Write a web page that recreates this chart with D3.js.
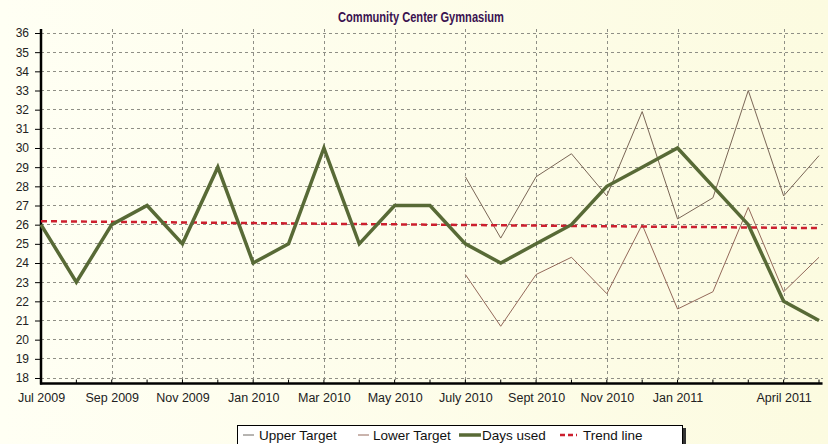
<!DOCTYPE html>
<html><head><meta charset="utf-8">
<script src="https://cdn.jsdelivr.net/npm/d3@7/dist/d3.min.js"></script>
<style>html,body{margin:0;padding:0;background:#fdfde8;}svg{display:block;font-family:Arial,"Liberation Sans",sans-serif;}</style>
</head><body>
<script>
const months = ["Jul 2009","Aug 2009","Sep 2009","Oct 2009","Nov 2009","Dec 2009","Jan 2010","Feb 2010","Mar 2010","Apr 2010","May 2010","Jun 2010","July 2010","Aug 2010","Sept 2010","Oct 2010","Nov 2010","Dec 2010","Jan 2011","Feb 2011","Mar 2011","April 2011","May 2011"];
const tickLabels = ["Jul 2009","Sep 2009","Nov 2009","Jan 2010","Mar 2010","May 2010","July 2010","Sept 2010","Nov 2010","Jan 2011","April 2011"];
const daysUsed = [26,23,26,27,25,29,24,25,30,25,27,27,25,24,25,26,28,29,30,28,26,22,21];
const upperTarget = [null,null,null,null,null,null,null,null,null,null,null,null,28.5,25.3,28.5,29.7,27.5,31.9,26.3,27.4,33.0,27.5,29.6];
const lowerTarget = [null,null,null,null,null,null,null,null,null,null,null,null,23.4,20.7,23.4,24.3,22.4,26.0,21.6,22.5,26.9,22.5,24.3];
const trendLine = [[0,26.18],[22,25.82]];
const yTicks = d3.range(18,37,1);

const W=828,H=444;
const svg=d3.select("body").append("svg").attr("width",W).attr("height",H);
const defs=svg.append("defs");
const g=defs.append("linearGradient").attr("id","bg").attr("x1",0).attr("x2",1).attr("y1",0).attr("y2",0);
g.append("stop").attr("offset","0%").attr("stop-color","#fffff4");
g.append("stop").attr("offset","100%").attr("stop-color","#fcfbe0");
svg.append("rect").attr("width",W).attr("height",H).attr("fill","url(#bg)");

const x=d3.scaleLinear().domain([0,22]).range([41,819]);
const y=d3.scaleLinear().domain([18,36]).range([378,33]);
const yBottom=17.71, xRight=22.1;

svg.append("text").attr("x",421).attr("y",22).attr("text-anchor","middle")
  .attr("font-weight","bold").attr("font-size",15).attr("fill","#3a1250")
  .attr("textLength",166).attr("lengthAdjust","spacingAndGlyphs").text("Community Center Gymnasium");

// horizontal grid
svg.append("g").selectAll("line").data(yTicks).join("line")
  .attr("x1",x(0)).attr("x2",x(xRight)).attr("y1",d=>y(d)).attr("y2",d=>y(d))
  .attr("stroke","#8f8f86").attr("stroke-width",1).attr("stroke-dasharray","3,3").attr("shape-rendering","crispEdges");
// vertical grid
const tickIdx=tickLabels.map(l=>months.indexOf(l));
svg.append("g").selectAll("line").data(tickIdx.filter(i=>i>0)).join("line")
  .attr("x1",d=>Math.round(x(d))+0.5).attr("x2",d=>Math.round(x(d))+0.5).attr("y1",y(36)-4).attr("y2",y(yBottom))
  .attr("stroke","#8f8f86").attr("stroke-width",1).attr("stroke-dasharray","3,3");

// Y axis
const yAxis=d3.axisLeft(y).tickValues(yTicks).tickSize(6).tickPadding(6).tickFormat(d3.format("d"));
const ya=svg.append("g").attr("transform",`translate(${x(0)},0)`).call(yAxis);
ya.select(".domain").remove();
ya.selectAll("line").attr("stroke","#000");
ya.selectAll("text").attr("font-size",12).attr("fill","#222").attr("font-family","Arial, 'Liberation Sans', sans-serif");
svg.append("line").attr("x1",x(0)).attr("x2",x(0)).attr("y1",y(36)-4).attr("y2",y(yBottom)+1).attr("stroke","#000").attr("stroke-width",2.5);

// X axis
const xAxis=d3.axisBottom(x).tickValues(tickIdx).tickSize(0).tickPadding(10).tickFormat(i=>months[i]);
const xa=svg.append("g").attr("transform",`translate(0,${y(yBottom)})`).call(xAxis);
xa.select(".domain").remove();
xa.selectAll("text").attr("font-size",12.5).attr("fill","#222").attr("font-family","Arial, 'Liberation Sans', sans-serif");
// minor ticks (monthly) pointing up
svg.append("g").selectAll("line").data(d3.range(0,23)).join("line")
  .attr("x1",d=>x(d)).attr("x2",d=>x(d)).attr("y1",y(yBottom)-4).attr("y2",y(yBottom))
  .attr("stroke","#000").attr("stroke-width",1);
svg.append("line").attr("x1",x(0)-1).attr("x2",x(xRight)).attr("y1",y(yBottom)).attr("y2",y(yBottom)).attr("stroke","#000").attr("stroke-width",2.5);

// series
const line=d3.line().defined(d=>d!=null).x((d,i)=>x(i)).y(d=>y(d));
svg.append("path").attr("d",line(upperTarget)).attr("fill","none").attr("stroke","#7a6656").attr("stroke-width",1);
svg.append("path").attr("d",line(lowerTarget)).attr("fill","none").attr("stroke","#94695a").attr("stroke-width",1);
svg.append("path").attr("d",d3.line().x(d=>x(d[0])).y(d=>y(d[1]))(trendLine)).attr("fill","none")
  .attr("stroke","#cc1f2e").attr("stroke-width",2.5).attr("stroke-dasharray","6,4");
svg.append("path").attr("d",line(daysUsed)).attr("fill","none").attr("stroke","#586a36").attr("stroke-width",3.5).attr("stroke-linejoin","miter");

// legend
const lg=svg.append("g");
lg.append("rect").attr("x",240).attr("y",428).attr("width",446).attr("height",22).attr("fill","#333");
lg.append("rect").attr("x",237.5).attr("y",425.5).attr("width",445).attr("height",22).attr("fill","#ffffff").attr("stroke","#000").attr("stroke-width",1);
const items=[
 {name:"Upper Target",x1:243,x2:254,tx:259,c:"#6f6a64",w:1,dash:null},
 {name:"Lower Target",x1:358,x2:369,tx:373,c:"#94695a",w:1,dash:null},
 {name:"Days used",x1:459,x2:481,tx:482,c:"#586a36",w:3.5,dash:null},
 {name:"Trend line",x1:560,x2:577,tx:583,c:"#cc1f2e",w:2.5,dash:"5,3"}
];
items.forEach(it=>{
  lg.append("line").attr("x1",it.x1).attr("x2",it.x2).attr("y1",435).attr("y2",435).attr("stroke",it.c).attr("stroke-width",it.w).attr("stroke-dasharray",it.dash);
  lg.append("text").attr("x",it.tx).attr("y",440).attr("font-size",13.5).attr("fill","#111").text(it.name);
});
</script>
</body></html>
